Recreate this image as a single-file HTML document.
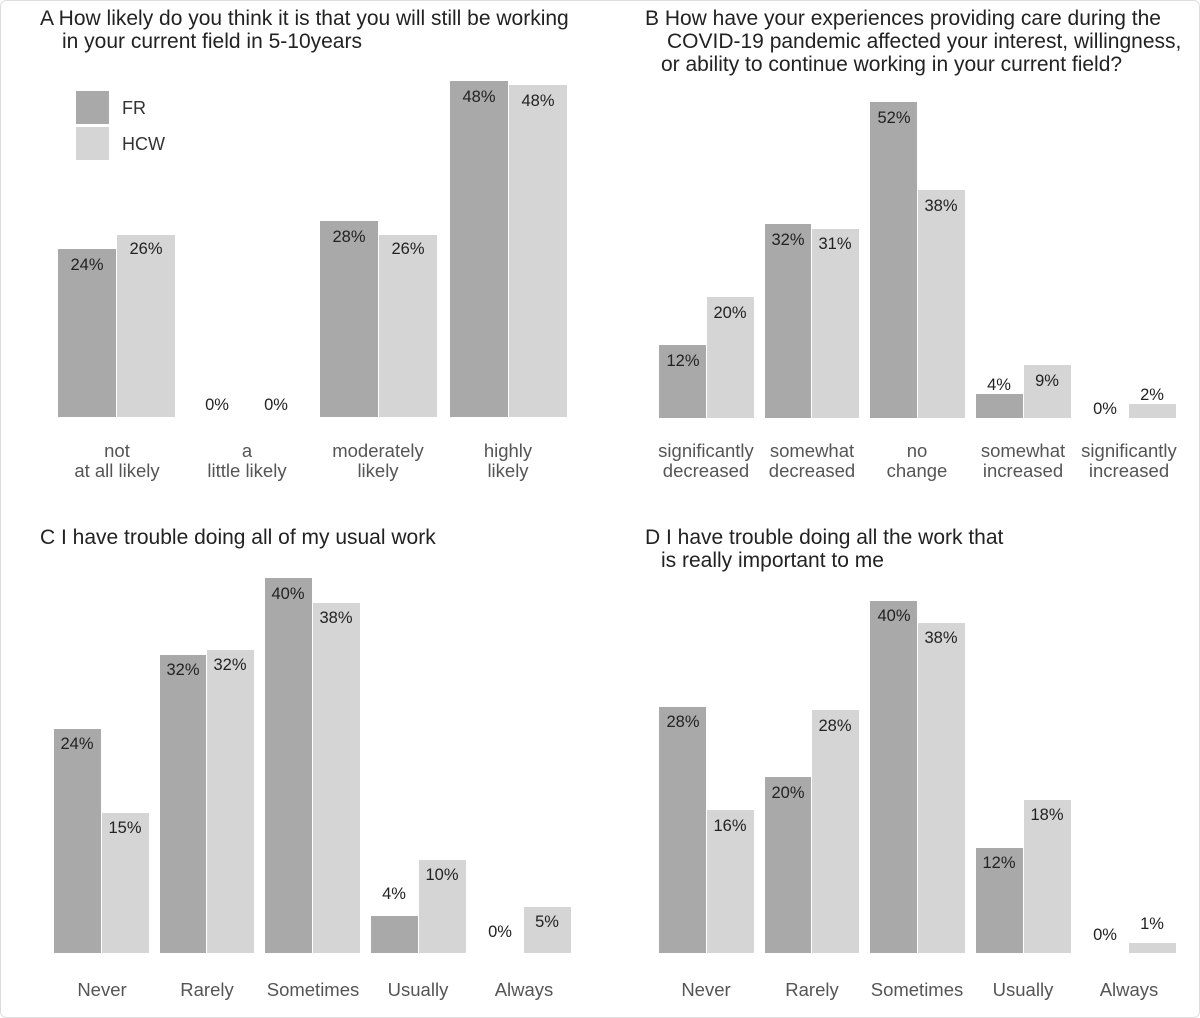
<!DOCTYPE html>
<html><head><meta charset="utf-8"><style>
body{margin:0;background:#fff}
svg{display:block;font-family:"Liberation Sans",Arial,sans-serif}
.t{font-size:21px;fill:#222}
.v{font-size:16.5px;fill:#222;text-anchor:middle}
.a{font-size:18.5px;fill:#555;text-anchor:middle}
.d{fill:#a9a9a9}.l{fill:#d5d5d5}
</style></head><body>
<svg width="1200" height="1018" viewBox="0 0 1200 1018">
<rect x="0.5" y="0.5" width="1199" height="1017" rx="6" fill="#fff" stroke="#ddd"/>
<!-- A -->
<text class="t" x="40" y="25">A  How likely do you think it is that you will still be working</text>
<text class="t" x="62" y="48">in your current field in 5-10years</text>
<rect class="d" x="76" y="91" width="33" height="33"/><text x="122" y="114" style="font-size:18px;fill:#333">FR</text>
<rect class="l" x="76" y="127" width="33" height="33"/><text x="122" y="150" style="font-size:18px;fill:#333">HCW</text>
<rect class="d" x="58" y="249" width="58" height="168"/><text class="v" x="87" y="270">24%</text>
<rect class="l" x="117" y="235" width="58" height="182"/><text class="v" x="146" y="254">26%</text>
<text class="v" x="217" y="410">0%</text><text class="v" x="276" y="410">0%</text>
<rect class="d" x="320" y="221" width="58" height="196"/><text class="v" x="349" y="242">28%</text>
<rect class="l" x="379" y="235" width="58" height="182"/><text class="v" x="408" y="254">26%</text>
<rect class="d" x="450" y="81" width="58" height="336"/><text class="v" x="479" y="102">48%</text>
<rect class="l" x="509" y="85" width="58" height="332"/><text class="v" x="538" y="106">48%</text>
<text class="a" x="117" y="457">not</text><text class="a" x="117" y="477">at all likely</text>
<text class="a" x="247" y="457">a</text><text class="a" x="247" y="477">little likely</text>
<text class="a" x="378" y="457">moderately</text><text class="a" x="378" y="477">likely</text>
<text class="a" x="508" y="457">highly</text><text class="a" x="508" y="477">likely</text>
<!-- B -->
<text class="t" x="645" y="25">B  How have your experiences providing care during the</text>
<text class="t" x="667" y="48">COVID-19 pandemic affected your interest, willingness,</text>
<text class="t" x="661" y="71">or ability to continue working in your current field?</text>
<rect class="d" x="659" y="345" width="47" height="73"/><text class="v" x="683" y="366">12%</text>
<rect class="l" x="707" y="297" width="47" height="121"/><text class="v" x="730" y="318">20%</text>
<rect class="d" x="765" y="224" width="46" height="194"/><text class="v" x="788" y="245">32%</text>
<rect class="l" x="812" y="229" width="47" height="189"/><text class="v" x="835" y="249">31%</text>
<rect class="d" x="870" y="102" width="47" height="316"/><text class="v" x="894" y="123">52%</text>
<rect class="l" x="918" y="190" width="47" height="228"/><text class="v" x="941" y="211">38%</text>
<rect class="d" x="976" y="394" width="47" height="24"/><text class="v" x="999" y="390">4%</text>
<rect class="l" x="1024" y="365" width="47" height="53"/><text class="v" x="1047" y="386">9%</text>
<text class="v" x="1105" y="414">0%</text>
<rect class="l" x="1129" y="404" width="47" height="14"/><text class="v" x="1152" y="400">2%</text>
<text class="a" x="706" y="457">significantly</text><text class="a" x="706" y="477">decreased</text>
<text class="a" x="812" y="457">somewhat</text><text class="a" x="812" y="477">decreased</text>
<text class="a" x="917" y="457">no</text><text class="a" x="917" y="477">change</text>
<text class="a" x="1023" y="457">somewhat</text><text class="a" x="1023" y="477">increased</text>
<text class="a" x="1129" y="457">significantly</text><text class="a" x="1129" y="477">increased</text>
<!-- C -->
<text class="t" x="40" y="544">C  I have trouble doing all of my usual work</text>
<rect class="d" x="54" y="729" width="47" height="224"/><text class="v" x="77" y="749">24%</text>
<rect class="l" x="102" y="813" width="47" height="140"/><text class="v" x="125" y="833">15%</text>
<rect class="d" x="160" y="655" width="46" height="298"/><text class="v" x="183" y="675">32%</text>
<rect class="l" x="207" y="650" width="47" height="303"/><text class="v" x="230" y="670">32%</text>
<rect class="d" x="265" y="578" width="47" height="375"/><text class="v" x="288" y="599">40%</text>
<rect class="l" x="313" y="603" width="47" height="350"/><text class="v" x="336" y="623">38%</text>
<rect class="d" x="371" y="916" width="47" height="37"/><text class="v" x="394" y="899">4%</text>
<rect class="l" x="419" y="860" width="47" height="93"/><text class="v" x="442" y="880">10%</text>
<text class="v" x="500" y="937">0%</text>
<rect class="l" x="524" y="907" width="47" height="46"/><text class="v" x="547" y="927">5%</text>
<text class="a" x="102" y="996">Never</text><text class="a" x="207" y="996">Rarely</text><text class="a" x="313" y="996">Sometimes</text><text class="a" x="418" y="996">Usually</text><text class="a" x="524" y="996">Always</text>
<!-- D -->
<text class="t" x="645" y="544">D  I have trouble doing all the work that</text>
<text class="t" x="661" y="567">is really important to me</text>
<rect class="d" x="659" y="707" width="47" height="246"/><text class="v" x="683" y="727">28%</text>
<rect class="l" x="707" y="810" width="47" height="143"/><text class="v" x="730" y="831">16%</text>
<rect class="d" x="765" y="777" width="46" height="176"/><text class="v" x="788" y="798">20%</text>
<rect class="l" x="812" y="710" width="47" height="243"/><text class="v" x="835" y="731">28%</text>
<rect class="d" x="870" y="601" width="47" height="352"/><text class="v" x="894" y="621">40%</text>
<rect class="l" x="918" y="623" width="47" height="330"/><text class="v" x="941" y="643">38%</text>
<rect class="d" x="976" y="848" width="47" height="105"/><text class="v" x="999" y="868">12%</text>
<rect class="l" x="1024" y="800" width="47" height="153"/><text class="v" x="1047" y="820">18%</text>
<text class="v" x="1105" y="940">0%</text>
<rect class="l" x="1129" y="943" width="47" height="10"/><text class="v" x="1152" y="929">1%</text>
<text class="a" x="706" y="996">Never</text><text class="a" x="812" y="996">Rarely</text><text class="a" x="917" y="996">Sometimes</text><text class="a" x="1023" y="996">Usually</text><text class="a" x="1129" y="996">Always</text>
</svg>
</body></html>
